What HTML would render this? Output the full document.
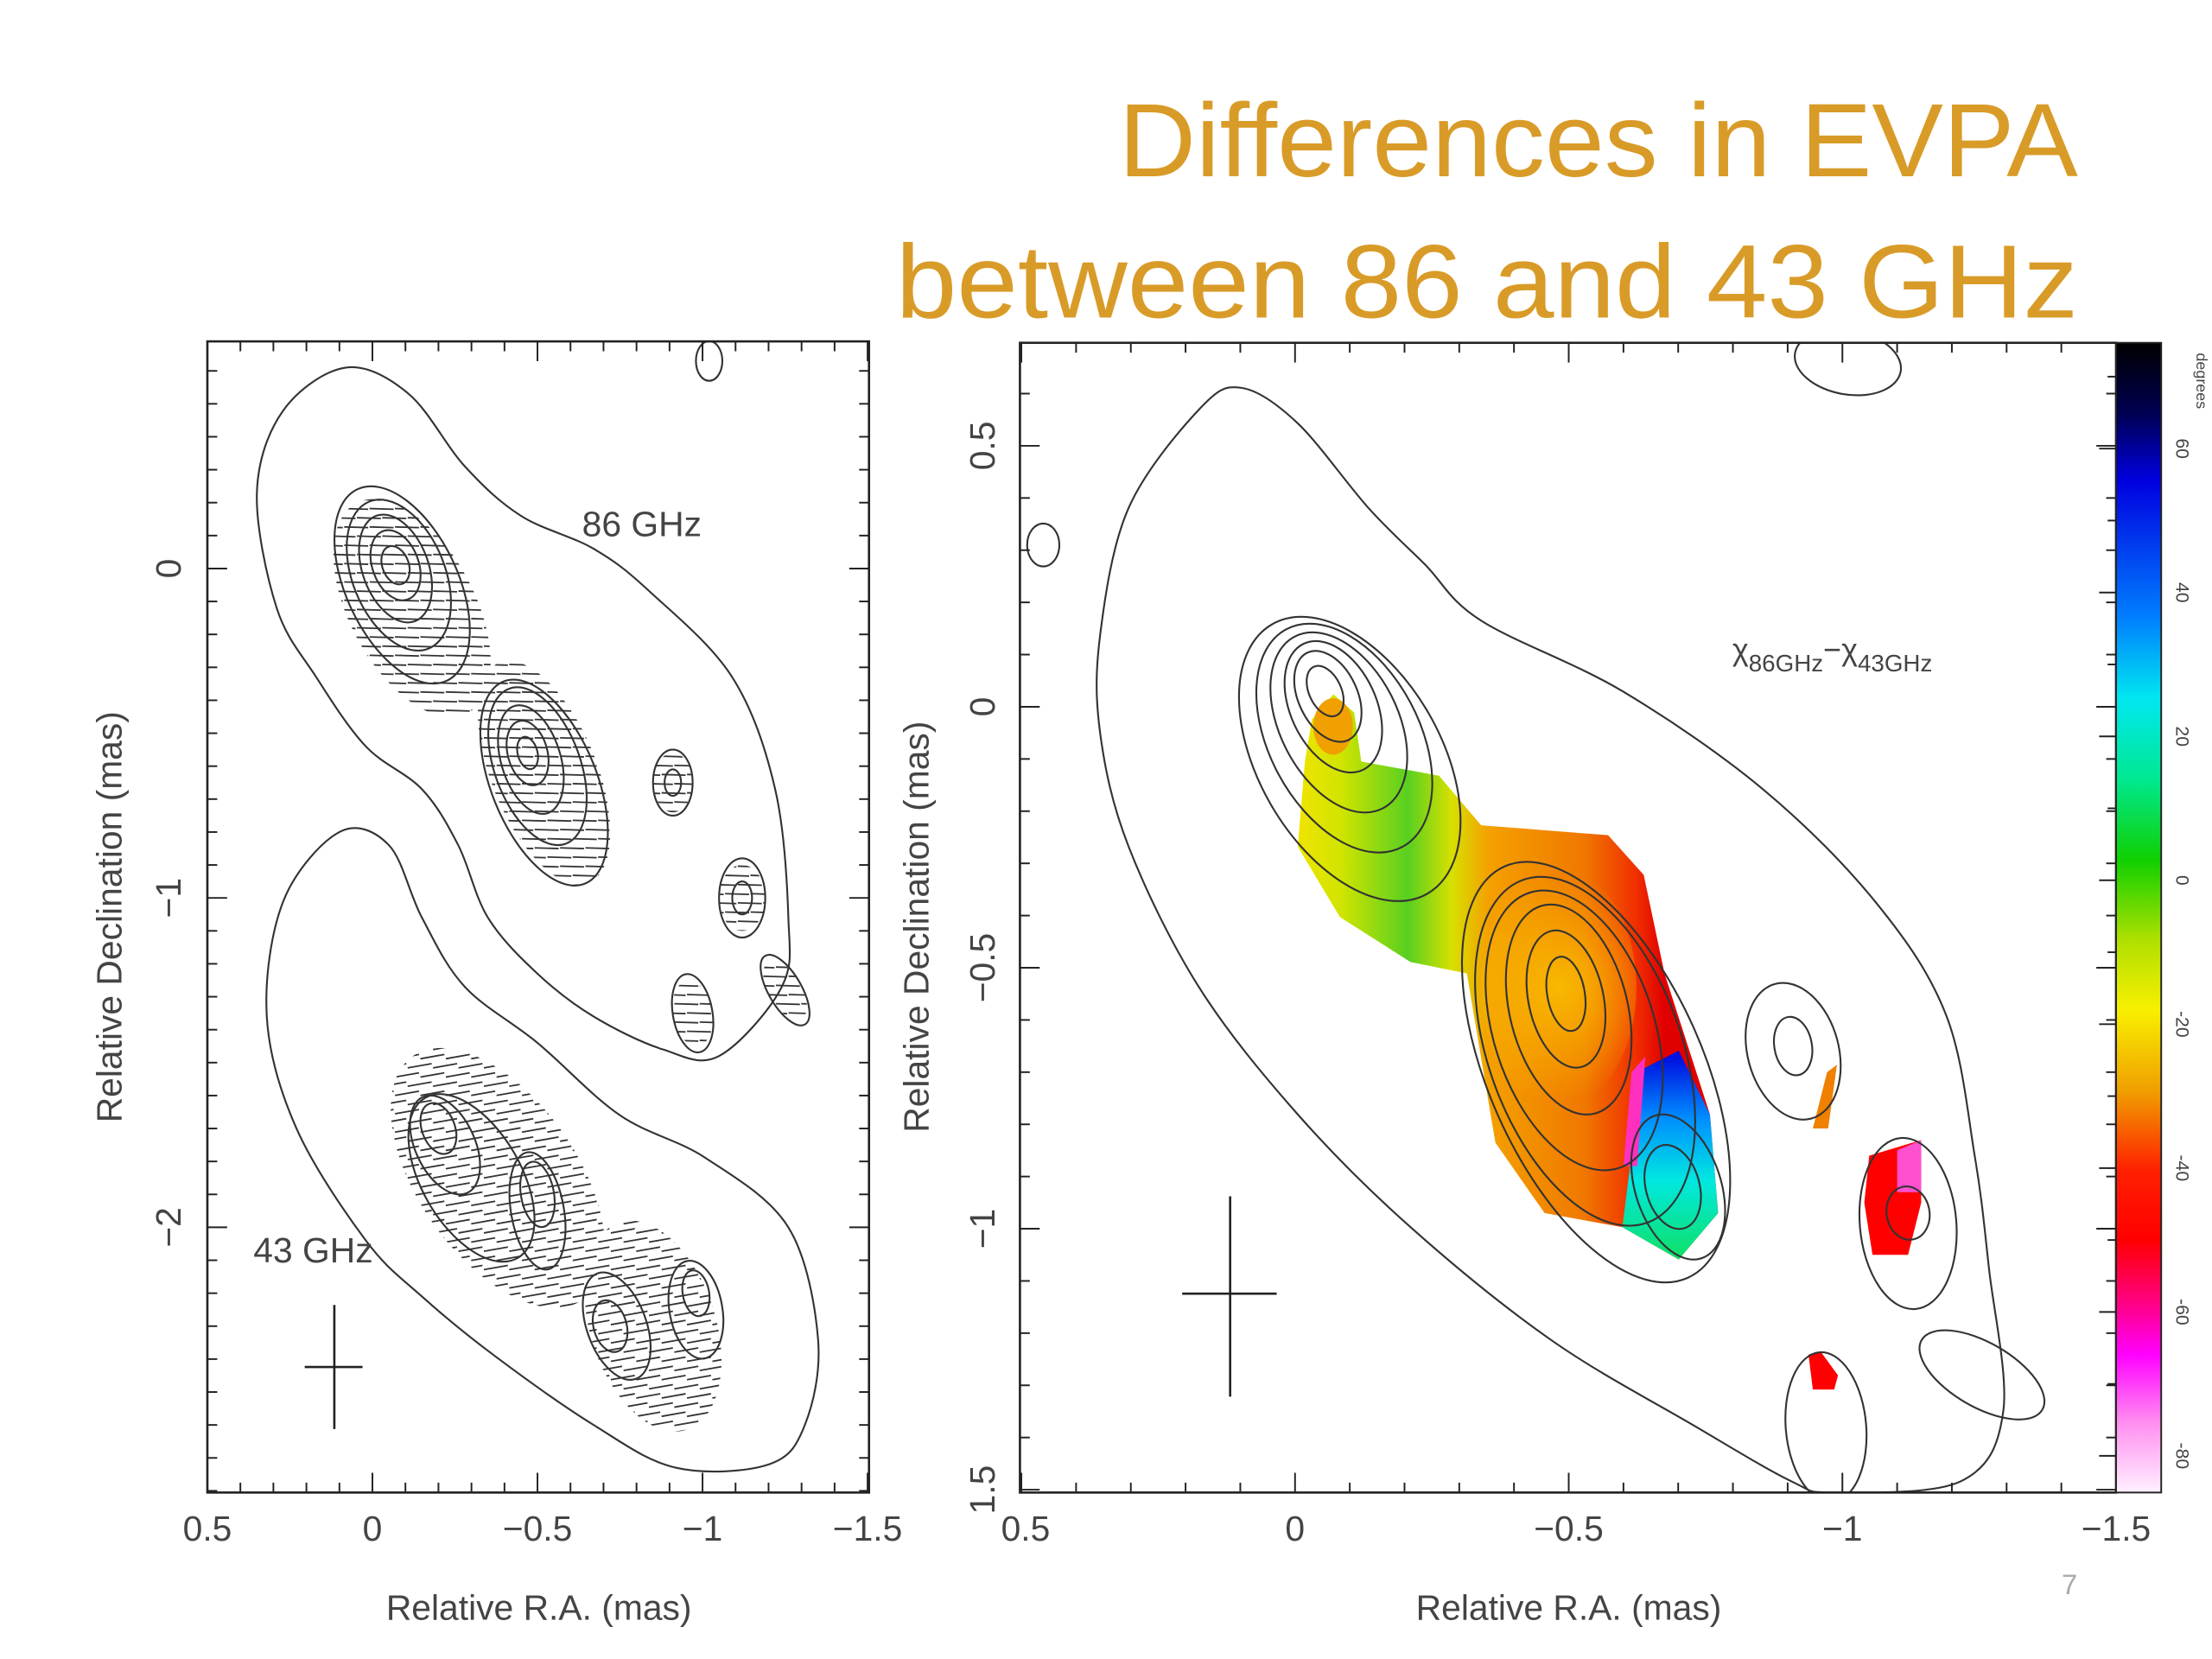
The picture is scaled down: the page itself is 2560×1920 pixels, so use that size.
<!DOCTYPE html>
<html><head><meta charset="utf-8"><style>
html,body{margin:0;padding:0;background:#fff;}
svg{display:block;}
text{font-family:"Liberation Sans",sans-serif;}
</style></head><body>
<svg id="chart" width="2560" height="1920" viewBox="0 0 1568 1176" preserveAspectRatio="none" xmlns="http://www.w3.org/2000/svg">
<defs>
<linearGradient id="cbar" x1="0" y1="0" x2="0" y2="1">
<stop offset="0" stop-color="#000000"/><stop offset="0.06" stop-color="#000050"/><stop offset="0.12" stop-color="#0000e0"/>
<stop offset="0.24" stop-color="#0080ff"/><stop offset="0.31" stop-color="#00e8f0"/><stop offset="0.38" stop-color="#00e890"/>
<stop offset="0.45" stop-color="#10d000"/><stop offset="0.52" stop-color="#b0e000"/><stop offset="0.58" stop-color="#f8f000"/>
<stop offset="0.65" stop-color="#f0a000"/><stop offset="0.72" stop-color="#ff2000"/><stop offset="0.78" stop-color="#ff0000"/>
<stop offset="0.84" stop-color="#ff0090"/><stop offset="0.88" stop-color="#ff00ff"/><stop offset="0.94" stop-color="#ff90f0"/><stop offset="1" stop-color="#fff0ff"/>
</linearGradient>
<linearGradient id="mainfill" gradientUnits="userSpaceOnUse" x1="920" y1="0" x2="1180" y2="0">
<stop offset="0" stop-color="#f0e400"/><stop offset="0.12" stop-color="#d0e400"/><stop offset="0.3" stop-color="#58d020"/>
<stop offset="0.42" stop-color="#d8e000"/><stop offset="0.52" stop-color="#f4a000"/><stop offset="0.78" stop-color="#f07800"/>
<stop offset="0.92" stop-color="#f03000"/><stop offset="1" stop-color="#e00000"/>
</linearGradient>
<radialGradient id="coreglow" gradientUnits="userSpaceOnUse" cx="1105" cy="700" r="80">
<stop offset="0" stop-color="#f8b800"/><stop offset="1" stop-color="#f8b800" stop-opacity="0"/>
</radialGradient>
<linearGradient id="bluefill" gradientUnits="userSpaceOnUse" x1="0" y1="750" x2="0" y2="895">
<stop offset="0" stop-color="#0010e0"/><stop offset="0.3" stop-color="#0090ff"/><stop offset="0.6" stop-color="#00e8e0"/><stop offset="1" stop-color="#10e060"/>
</linearGradient>
<clipPath id="lframe"><rect x="147" y="242" width="469" height="816"/></clipPath>
<clipPath id="rframe"><rect x="723" y="243" width="777" height="815"/></clipPath>
</defs>
<g id="root"></g>
</svg>
<script>
// ---- data arrays ----
const leftXTicks=[0.5,0,-0.5,-1,-1.5];
const leftXTickLabels=["0.5","0","\u22120.5","\u22121","\u22121.5"];
const leftYTicks=[0,-1,-2];
const leftYTickLabels=["0","\u22121","\u22122"];
const rightXTicks=[0.5,0,-0.5,-1,-1.5];
const rightXTickLabels=["0.5","0","\u22120.5","\u22121","\u22121.5"];
const rightYTicks=[0.5,0,-0.5,-1,-1.5];
const rightYTickLabels=["0.5","0","\u22120.5","\u22121","1.5"];
const cbarTicks=[60,40,20,0,-20,-40,-60,-80];
const cbarTickLabels=["60","40","20","0","-20","-40","-60","-80"];
// outer contours (ra, dec in mas)
const left86Outer=[[0.35,0.23],[0.27,0.48],[0.08,0.61],[-0.11,0.53],[-0.28,0.31],[-0.45,0.16],[-0.67,0.06],[-0.84,-0.07],[-1.09,-0.33],[-1.22,-0.67],[-1.26,-1.06],[-1.24,-1.27],[-1.05,-1.48],[-0.88,-1.46],[-0.67,-1.36],[-0.50,-1.23],[-0.35,-1.06],[-0.26,-0.84],[-0.15,-0.67],[0.02,-0.54],[0.17,-0.33],[0.29,-0.12]];
const left43Outer=[[0.27,-1.01],[0.10,-0.80],[-0.05,-0.84],[-0.15,-1.06],[-0.28,-1.27],[-0.50,-1.44],[-0.75,-1.66],[-1.01,-1.79],[-1.26,-2.0],[-1.35,-2.34],[-1.31,-2.60],[-1.2,-2.72],[-0.92,-2.73],[-0.67,-2.60],[-0.37,-2.39],[-0.15,-2.21],[0.02,-2.04],[0.23,-1.70],[0.32,-1.36]];
const rightOuter=[[0.356,0.138],[0.304,0.381],[0.175,0.570],[0.098,0.611],[-0.005,0.543],[-0.134,0.381],[-0.237,0.273],[-0.34,0.165],[-0.598,0.03],[-0.856,-0.159],[-1.062,-0.376],[-1.19,-0.592],[-1.242,-0.862],[-1.268,-1.078],[-1.294,-1.349],[-1.216,-1.484],[-0.985,-1.505],[-0.907,-1.484],[-0.727,-1.376],[-0.469,-1.214],[-0.211,-0.997],[-0.005,-0.781],[0.175,-0.538],[0.304,-0.268],[0.356,-0.051]];
// ellipse contours: [ra, dec, semiMajor(mas), semiMinor(mas), angleDeg]
const leftContours=[
 [-0.07,0.01,0.06,0.04,70],[-0.07,0.01,0.11,0.07,70],[-0.07,0.0,0.17,0.1,70],[-0.08,-0.02,0.24,0.14,68],[-0.09,-0.05,0.32,0.17,65],
 [-0.47,-0.56,0.05,0.03,75],[-0.47,-0.56,0.1,0.06,75],[-0.48,-0.58,0.17,0.09,73],[-0.5,-0.6,0.25,0.13,70],[-0.52,-0.65,0.33,0.16,68],
 [-0.91,-0.65,0.1,0.06,90],[-0.91,-0.65,0.04,0.025,90],[-1.12,-1.0,0.12,0.07,90],[-1.12,-1.0,0.05,0.03,90],
 [-0.97,-1.35,0.12,0.06,80],[-1.25,-1.28,0.12,0.05,60],[-1.02,0.63,0.06,0.04,90],
 [-0.2,-1.7,0.08,0.05,70],[-0.22,-1.75,0.16,0.09,65],[-0.3,-1.85,0.28,0.15,60],[-0.5,-1.9,0.1,0.05,80],[-0.5,-1.95,0.18,0.08,80],
 [-0.72,-2.3,0.08,0.05,75],[-0.74,-2.3,0.17,0.09,70],[-0.98,-2.2,0.07,0.04,80],[-0.98,-2.25,0.15,0.08,80]
];
const leftHatch=[
 [-0.12,-0.12,0.36,0.19,62],[-0.52,-0.62,0.36,0.16,68],[-0.91,-0.65,0.09,0.06,90],[-1.12,-1.0,0.1,0.07,90],
 [-0.97,-1.35,0.1,0.06,80],[-1.25,-1.28,0.1,0.05,60],[-0.38,-1.85,0.45,0.24,55],[-0.85,-2.3,0.33,0.19,72]
];
const rightContours=[
 [-0.055,0.03,0.05,0.03,65],[-0.06,0.02,0.09,0.055,65],[-0.07,0.0,0.13,0.08,65],[-0.08,-0.03,0.18,0.11,63],[-0.09,-0.06,0.23,0.14,62],[-0.1,-0.1,0.29,0.17,60],
 [-0.495,-0.55,0.07,0.035,80],[-0.495,-0.56,0.13,0.07,78],[-0.5,-0.58,0.2,0.11,76],[-0.51,-0.62,0.27,0.15,72],[-0.53,-0.66,0.34,0.18,70],[-0.55,-0.7,0.42,0.2,66],
 [-0.69,-0.92,0.08,0.05,75],[-0.7,-0.92,0.14,0.08,72],
 [-0.91,-0.65,0.055,0.035,80],[-0.91,-0.66,0.13,0.085,75],[-1.12,-0.97,0.05,0.04,80],[-1.12,-0.99,0.16,0.09,85],
 [-0.97,-1.38,0.14,0.075,85],[-1.255,-1.28,0.13,0.06,30],[-1.01,0.66,0.1,0.06,10],[0.46,0.31,0.03,0.04,0]
];
const mainPatch=[[-0.031,-0.024],[-0.070,0.024],[-0.108,-0.011],[-0.121,-0.105],[-0.263,-0.132],[-0.340,-0.227],[-0.572,-0.246],[-0.637,-0.322],[-0.675,-0.511],[-0.758,-0.781],[-0.773,-0.970],[-0.701,-1.059],[-0.598,-0.997],[-0.456,-0.970],[-0.366,-0.835],[-0.314,-0.511],[-0.211,-0.489],[-0.082,-0.403],[-0.005,-0.268],[-0.018,-0.105]];
const bluePatch=[[-0.624,-0.700],[-0.701,-0.659],[-0.758,-0.781],[-0.773,-0.970],[-0.701,-1.059],[-0.598,-0.997],[-0.611,-0.889]];
const magentaPatch=[[-0.615,-0.70],[-0.64,-0.67],[-0.625,-0.88],[-0.60,-0.88]];
const redPatch1=[[-1.049,-0.86],[-1.144,-0.83],[-1.144,-0.95],[-1.12,-1.05],[-1.055,-1.05],[-1.04,-0.95]];
const magPatch1=[[-1.10,-0.85],[-1.144,-0.83],[-1.144,-0.93],[-1.10,-0.93]];
const redPatch2=[[-0.938,-1.241],[-0.96,-1.235],[-0.992,-1.281],[-0.985,-1.308],[-0.946,-1.308]];
const orangePatch=[[-0.972,-0.70],[-0.990,-0.686],[-0.974,-0.808],[-0.946,-0.808]];

// ---- axes ----
const LX=v=>264-234*v, LY=v=>403-233.5*v, LS=234;
const RX=v=>918-388*v, RY=v=>501-370*v, RS=380;
const CY=v=>624-5.1*v;
const NS="http://www.w3.org/2000/svg";
const root=document.getElementById('root');
function mk(tag,attrs,parent){const e=document.createElementNS(NS,tag);for(const k in attrs)e.setAttribute(k,attrs[k]);(parent||root).appendChild(e);return e;}
function txt(s,x,y,size,extra,parent){const t=mk('text',Object.assign({x:x,y:y,'font-size':size,fill:'#444','text-anchor':'middle'},extra||{}),parent);t.textContent=s;return t;}

const t1=txt("Differences in EVPA",1473,125,74,{'text-anchor':'end',fill:'#d99b28',textLength:680,lengthAdjust:'spacingAndGlyphs'});


const t2=txt("between 86 and 43 GHz",1473,225,74,{'text-anchor':'end',fill:'#d99b28',textLength:838,lengthAdjust:'spacingAndGlyphs'});



function drawEllipses(list,X,Y,S,parent,name){
 list.forEach(c=>{const cx=X(c[0]),cy=Y(c[1]);
  const e=mk('ellipse',{cx:cx,cy:cy,rx:c[2]*S,ry:c[3]*S,transform:`rotate(${c[4]} ${cx} ${cy})`,fill:'none',stroke:'#333','stroke-width':1.3},parent);
  
  
 });
}
function smoothPath(pts,X,Y,parent,name){
 const P=pts.map(q=>[X(q[0]),Y(q[1])]);const n=P.length;let d=`M${P[0][0]},${P[0][1]}`;
 for(let i=0;i<n;i++){const p0=P[(i-1+n)%n],p1=P[i],p2=P[(i+1)%n],p3=P[(i+2)%n];
  const c1=[p1[0]+(p2[0]-p0[0])/6,p1[1]+(p2[1]-p0[1])/6],c2=[p2[0]-(p3[0]-p1[0])/6,p2[1]-(p3[1]-p1[1])/6];
  d+=`C${c1[0]},${c1[1]} ${c2[0]},${c2[1]} ${p2[0]},${p2[1]}`;}
 const e=mk('path',{d:d+'Z',fill:'none',stroke:'#333','stroke-width':1.3},parent);
 
 
}
function poly(pts,X,Y,fill,parent,name){
 const p=mk('polygon',{points:pts.map(q=>X(q[0])+','+Y(q[1])).join(' '),fill:fill},parent);
 
 
 return p;
}
function frame(x0,y0,x1,y1,xt,yt,X,Y,xMinor,yMinor,name){
 const g=mk('g',{});
 
 
 mk('rect',{x:x0,y:y0,width:x1-x0,height:y1-y0,fill:'none',stroke:'#222','stroke-width':1.6},g);
 xMinor.forEach(v=>{const x=X(v);const big=xt.some(t=>Math.abs(t-v)<1e-6);const l=big?14:7;
  mk('line',{x1:x,y1:y1,x2:x,y2:y1-l,stroke:'#222','stroke-width':1.2},g);mk('line',{x1:x,y1:y0,x2:x,y2:y0+l,stroke:'#222','stroke-width':1.2},g);});
 yMinor.forEach(v=>{const y=Y(v);const big=yt.some(t=>Math.abs(t-v)<1e-6);const l=big?14:7;
  mk('line',{x1:x0,y1:y,x2:x0+l,y2:y,stroke:'#222','stroke-width':1.2},g);mk('line',{x1:x1,y1:y,x2:x1-l,y2:y,stroke:'#222','stroke-width':1.2},g);});
}
function range(a,b,s){const r=[];for(let v=a;v>=b-1e-9;v-=s)r.push(Math.round(v*100)/100);return r;}

// ---- left panel ----
const lg=mk('g',{'clip-path':'url(#lframe)'});


mk('clipPath',{id:'lclip'},lg);
const lclip=lg.lastChild;
leftHatch.forEach(c=>{const cx=LX(c[0]),cy=LY(c[1]);mk('ellipse',{cx:cx,cy:cy,rx:c[2]*LS,ry:c[3]*LS,transform:`rotate(${c[4]} ${cx} ${cy})`},lclip);});
const hg=mk('g',{'clip-path':'url(#lclip)',stroke:'#333','stroke-width':1.1},lg);


for(let y=250;y<1055;y+=6.5){const off=(Math.round(y/6.5)%2)*9;for(let x=145+off;x<615;x+=18){mk('line',{x1:x,y1:y,x2:x+17,y2:y+(y>740?-3:0.5)},hg);}}
smoothPath(left86Outer,LX,LY,lg,'outer-contour-86ghz');
smoothPath(left43Outer,LX,LY,lg,'outer-contour-43ghz');
drawEllipses(leftContours,LX,LY,LS,lg,'contour');
frame(147,242,616,1058,leftXTicks,leftYTicks,LX,LY,range(0.5,-1.5,0.1),range(0.6,-2.8,0.1),'left-axes');
leftXTicks.forEach((v,i)=>{const t=txt(leftXTickLabels[i],LX(v),1092,25);});
leftYTicks.forEach((v,i)=>{const t=txt(leftYTickLabels[i],128,LY(v),25,{transform:`rotate(-90 128 ${LY(v)})`});});
let a=txt("Relative R.A. (mas)",382,1148,25);
a=txt("Relative Declination (mas)",86,650,25,{transform:'rotate(-90 86 650)'});
a=txt("86  GHz",455,380,25);
a=txt("43  GHz",222,895,25);
let bm=mk('path',{d:'M237 925V1013M216 969H257',stroke:'#222','stroke-width':1.6,fill:'none'});

// ---- right panel ----
const rg=mk('g',{'clip-path':'url(#rframe)'});


poly(mainPatch,RX,RY,'url(#mainfill)',rg,'evpa-diff-main-region');
const glow=mk('ellipse',{cx:1105,cy:700,rx:55,ry:85,fill:'url(#coreglow)'},rg);
const ob=mk('ellipse',{cx:945,cy:515,rx:14,ry:20,fill:'#f0a000'},rg);
poly(bluePatch,RX,RY,'url(#bluefill)',rg,'evpa-diff-blue-region');
poly(magentaPatch,RX,RY,'#ff30c0',rg,'evpa-diff-magenta-edge');
poly(redPatch1,RX,RY,'#ff0000',rg,'evpa-diff-red-patch');
poly(magPatch1,RX,RY,'#ff50d0',rg,'evpa-diff-magenta-patch');
poly(redPatch2,RX,RY,'#ff0000',rg,'evpa-diff-red-patch-2');
poly(orangePatch,RX,RY,'#f08000',rg,'evpa-diff-orange-patch');
smoothPath(rightOuter,RX,RY,rg,'outer-contour');
drawEllipses(rightContours,RX,RY,RS,rg,'contour');
frame(723,243,1500,1058,rightXTicks,rightYTicks,RX,RY,range(0.5,-1.5,0.1),range(0.6,-1.5,0.1),'right-axes');
rightXTicks.forEach((v,i)=>{const t=txt(rightXTickLabels[i],RX(v)+(i==0?3:0),1092,25);});
rightYTicks.forEach((v,i)=>{const t=txt(rightYTickLabels[i],705,RY(v),25,{transform:`rotate(-90 705 ${RY(v)})`});});
a=txt("Relative R.A. (mas)",1112,1148,25);
a=txt("Relative Declination (mas)",658,657,25,{transform:'rotate(-90 658 657)'});
const chi=mk('text',{x:1228,y:468,'font-size':22,fill:'#444'});


chi.innerHTML='χ<tspan dy="8" font-size="17">86GHz</tspan><tspan dy="-8">−χ</tspan><tspan dy="8" font-size="17">43GHz</tspan>';
bm=mk('path',{d:'M872 848V990M838 917H905',stroke:'#222','stroke-width':1.6,fill:'none'});

// colorbar
const cb=mk('g',{});


mk('rect',{x:1500,y:243,width:32,height:815,fill:'url(#cbar)',stroke:'#222','stroke-width':1.2},cb);
for(let v=70;v>=-85;v-=10){const y=CY(v);const big=v%20==0;mk('line',{x1:1500,y1:y,x2:big?1488:1494,y2:y,stroke:'#222','stroke-width':1.2},cb);}
cbarTicks.forEach((v,i)=>{const y=CY(v);const t=txt(cbarTickLabels[i],1546,y,13,{transform:`rotate(90 1546 ${y})`,'dominant-baseline':'middle'},cb);});
a=txt("degrees",1560,270,11,{transform:'rotate(90 1560 270)','dominant-baseline':'middle'},cb);

a=txt("7",1467,1130,20,{fill:'#aaa'});
</script>
</body></html>
